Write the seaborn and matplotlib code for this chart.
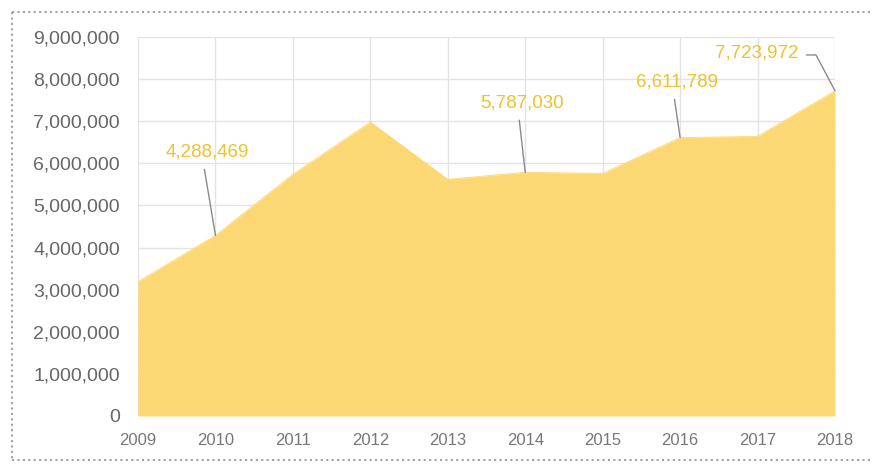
import matplotlib
matplotlib.use("Agg")
import matplotlib.pyplot as plt
from matplotlib.lines import Line2D
from matplotlib.ticker import FuncFormatter
import seaborn as sns
import pandas as pd

# Yearly totals
years = [2009, 2010, 2011, 2012, 2013, 2014, 2015, 2016, 2017, 2018]
values = [3190000, 4288469, 5740000, 6980000, 5620000, 5787030, 5760000, 6611789, 6640000, 7723972]

# Years whose values are called out, with label offsets in points (dx, dy)
callout_years = [2010, 2014, 2016, 2018]
callout_offsets = [(-6, 60), (-2, 50), (-2, 40), (-56, 27)]

y_ticks = list(range(0, 9000001, 1000000))

FILL = "#fcd66e"
LABEL = "#eec22c"
TICK = "#666666"
GRID = "#e3e3e3"

sns.set_theme(style="white")
plt.rcParams["font.family"] = ["Liberation Sans", "DejaVu Sans"]

df = pd.DataFrame({"year": years, "value": values})

fig = plt.figure(figsize=(8.73, 4.66), dpi=100)
ax = fig.add_axes([138 / 873, 1 - 416 / 466, (835 - 138) / 873, (416 - 37) / 466])

sns.lineplot(data=df, x="year", y="value", ax=ax, color=FILL, linewidth=0.6, zorder=3)
ax.fill_between(df["year"], df["value"], 0, color=FILL, alpha=0.95, linewidth=0, zorder=2)

ax.set_xlim(years[0], years[-1])
ax.set_ylim(0, 9000000)
ax.set_xticks(years)
ax.set_yticks(y_ticks)
ax.yaxis.set_major_formatter(FuncFormatter(lambda v, _: f"{int(v):,}"))
ax.set_xlabel("")
ax.set_ylabel("")
ax.grid(True, color=GRID, linewidth=1, zorder=0)
ax.set_axisbelow(True)
for s in ax.spines.values():
    s.set_visible(False)

ax.tick_params(axis="y", length=0, pad=13, labelsize=14, labelcolor=TICK)
ax.tick_params(axis="x", length=0, pad=12, labelsize=12, labelcolor="#777777")

# Value call-outs with leader lines
for yr, (dx, dy) in zip(callout_years, callout_offsets):
    v = values[years.index(yr)]
    if yr == years[-1]:
        ax.annotate(f"{v:,}", xy=(yr, v), xytext=(dx, dy), textcoords="offset points",
                    ha="center", va="center", fontsize=13.5, color=LABEL,
                    annotation_clip=False, zorder=5,
                    arrowprops=dict(arrowstyle="-", color="#8a8a8a", lw=1,
                                    shrinkA=3, shrinkB=0, relpos=(1, 0.4),
                                    connectionstyle="angle,angleA=0,angleB=118,rad=0"))
    else:
        ax.annotate(f"{v:,}", xy=(yr, v), xytext=(dx, dy), textcoords="offset points",
                    ha="center", va="center", fontsize=13.5, color=LABEL, zorder=5,
                    arrowprops=dict(arrowstyle="-", color="#8a8a8a", lw=1,
                                    shrinkA=4, shrinkB=0, relpos=(0.45, 0)))

# Dotted frame around the chart panel
frame = dict(color="#9a9a9a", linewidth=1.3, linestyle=(0, (1.2, 1.8)))
fig.add_artist(Line2D([12 / 873, 1], [1 - 12 / 466, 1 - 12 / 466], transform=fig.transFigure, **frame))
fig.add_artist(Line2D([12 / 873, 1], [1 - 460 / 466, 1 - 460 / 466], transform=fig.transFigure, **frame))
fig.add_artist(Line2D([12 / 873, 12 / 873], [1 - 12 / 466, 1 - 460 / 466], transform=fig.transFigure, **frame))

fig.savefig("out.png", dpi=100)
